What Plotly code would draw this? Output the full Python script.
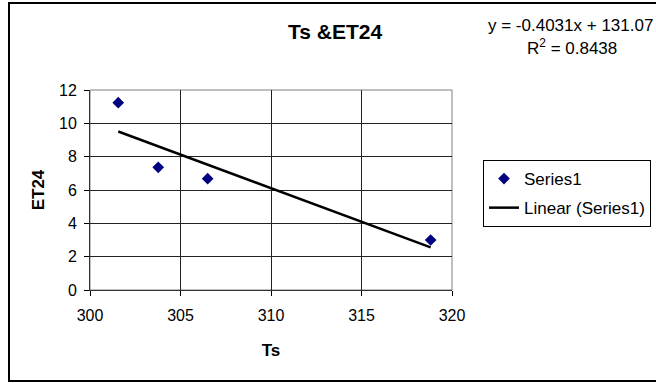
import plotly.graph_objects as go

# Data
ts_values = [301.56, 303.77, 306.5, 318.82]
et24_values = [11.24, 7.36, 6.68, 3.0]

# Trendline coefficients as stated on the chart
slope = -0.4031
intercept = 131.07

x_ticks = [300, 305, 310, 315, 320]
y_ticks = [0, 2, 4, 6, 8, 10, 12]

trend_x = [min(ts_values), max(ts_values)]
trend_y = [slope * x + intercept for x in trend_x]

FONT = "Liberation Sans, Arial, sans-serif"

# plot area in pixels: x 90..452, y 90..290
PL, PR, PT, PB = 90, 452, 90, 290
def px(x):
    return (x - PL) / (PR - PL)
def py(y):
    return (PB - y) / (PB - PT)

fig = go.Figure()
fig.add_trace(go.Scatter(
    x=ts_values, y=et24_values, mode="markers", name="Series1",
    legendgroup="a",
    marker=dict(symbol="diamond", size=9, color="#000080"),
))
fig.add_trace(go.Scatter(
    x=trend_x, y=trend_y, mode="lines", name="Linear (Series1)",
    legendgroup="b",
    line=dict(color="black", width=2.5),
))

fig.update_layout(
    width=656, height=383,
    margin=dict(l=PL, r=656 - PR, t=PT, b=383 - PB, autoexpand=False),
    paper_bgcolor="white", plot_bgcolor="white",
    font=dict(family=FONT, size=16, color="black"),
    showlegend=True,
    legend=dict(
        x=px(483), y=py(160), xanchor="left", yanchor="top",
        bordercolor="black", borderwidth=1, bgcolor="white",
        font=dict(family=FONT, size=17, color="black"),
        tracegroupgap=4, itemwidth=30,
    ),
    xaxis=dict(
        range=[300, 320], tickvals=x_ticks, ticktext=[str(v) for v in x_ticks],
        showgrid=True, gridcolor="#222222", gridwidth=1,
        showline=True, linecolor="#333333", linewidth=1,
        ticks="outside", ticklen=5, tickcolor="black",
        ticklabelstandoff=6,
        tickfont=dict(family=FONT, size=16),
        zeroline=False, fixedrange=True, automargin=False,
        title=dict(text="<b>Ts</b>", font=dict(family=FONT, size=17), standoff=20),
    ),
    yaxis=dict(
        range=[0, 12], tickvals=y_ticks, ticktext=[str(v) for v in y_ticks],
        showgrid=True, gridcolor="#222222", gridwidth=1,
        showline=True, linecolor="#333333", linewidth=1,
        ticks="outside", ticklen=5, tickcolor="black",
        ticklabelstandoff=4,
        tickfont=dict(family=FONT, size=16),
        zeroline=False, fixedrange=True, automargin=False,
        title=dict(text="<b>ET24</b>", font=dict(family=FONT, size=17), standoff=10),
    ),
    shapes=[
        # plot area border (gray)
        dict(type="rect", xref="paper", yref="paper", x0=0, x1=1, y0=0, y1=1,
             line=dict(color="#808080", width=1), layer="below"),
        # outer chart border
        dict(type="rect", xref="paper", yref="paper",
             x0=px(9), x1=px(662), y0=py(381), y1=py(3),
             line=dict(color="black", width=2)),
    ],
    annotations=[
        dict(text="<b>Ts &ET24</b>", xref="paper", yref="paper",
             x=px(334.5), y=py(31), xanchor="center", yanchor="middle",
             showarrow=False, font=dict(family=FONT, size=21)),
        dict(text="y = -0.4031x + 131.07", xref="paper", yref="paper",
             x=px(655), y=py(25), xanchor="right", yanchor="middle",
             showarrow=False, font=dict(family=FONT, size=17)),
        dict(text="R<sup>2</sup> = 0.8438", xref="paper", yref="paper",
             x=px(619), y=py(47), xanchor="right", yanchor="middle",
             showarrow=False, font=dict(family=FONT, size=17)),
    ],
)

fig.write_html("out.html")
